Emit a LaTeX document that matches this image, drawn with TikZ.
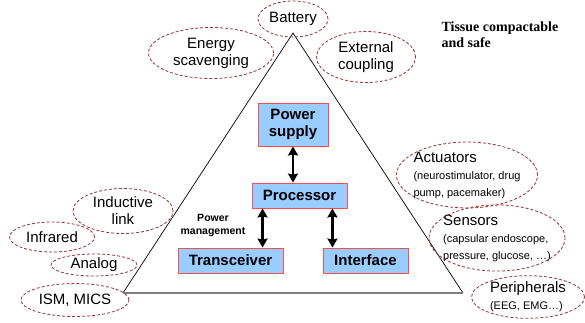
\documentclass[tikz,border=0pt]{standalone}
\usepackage{fontspec}
\setmainfont{Liberation Sans}
\newfontfamily\serifbold{Liberation Serif}
\usetikzlibrary{positioning,arrows.meta,shapes.geometric}

\definecolor{boxblue}{HTML}{99CCFF}
\definecolor{boxred}{HTML}{FF4D4D}
\definecolor{ovalred}{HTML}{993333}
\newcommand\smalltxt{\fontsize{11}{12}\selectfont}

\begin{document}
\begin{tikzpicture}[
x=1pt, y=-1pt,
block/.style={
    draw=boxred,
    fill=boxblue,
    line width=0.9pt,
    inner sep=0pt,
    align=center,
    font=\fontsize{15}{17.5}\selectfont\bfseries
},
oval/.style={
    ellipse,
    draw=ovalred,
    line width=0.8pt,
    dash pattern=on 3pt off 2pt,
    inner sep=0pt,
    align=center,
    font=\fontsize{15}{17}\selectfont
},
link/.style={
    <->,
    line width=2.6pt,
    >={Stealth[length=9pt,width=10pt,inset=1pt]}
}
]
\useasboundingbox (0,0) rectangle (585,322);

% triangle
\coordinate (apex) at (293,33);
\coordinate (baseL) at (123,293);
\coordinate (baseR) at (463,293);
\draw[line width=0.7pt] (baseL) -- (apex) -- (baseR);
\draw[gray, line width=1.6pt] (baseL) -- (baseR);

% blocks
\node (supply) [block, minimum width=70pt, minimum height=43pt] at (293,124.5)
{Power\\supply};
\node (processor) [block, minimum width=95pt, minimum height=25pt] at (299.5,195.5)
{Processor};
\node (transceiver) [block, minimum width=105pt, minimum height=25pt] at (230.5,260.5)
{Transceiver};
\node (interface) [block, minimum width=85pt, minimum height=25pt] at (365.5,260.5)
{Interface};

\draw[link] (supply.south) -- (supply.south |- processor.north);
\draw[link] ([xshift=11pt]processor.south west)
    -- ([xshift=11pt]processor.south west |- transceiver.north);
\draw[link] ([xshift=-15pt]processor.south east)
    -- ([xshift=-15pt]processor.south east |- interface.north);

\node (pm) [align=center, font=\fontsize{10.5}{13}\selectfont\bfseries] at (213,225)
{Power\\management};

% power sources
\node (battery) [oval, minimum width=70pt, minimum height=36pt] at (293,19) {Battery};
\node (scavenging) [oval, minimum width=125pt, minimum height=51pt] at (211,53)
{Energy\\scavenging};
\node (coupling) [oval, minimum width=99pt, minimum height=51pt] at (366,57)
{External\\coupling};

\node (tissue) [anchor=base west, align=left, font=\fontsize{14}{16}\serifbold\bfseries] at (438,47)
{Tissue compactable\\and safe};

% links
\node (inductive) [oval, minimum width=100pt, minimum height=45pt] at (123,211)
{Inductive\\link};
\node (infrared) [oval, minimum width=85pt, minimum height=30pt] at (52,237) {Infrared};
\node (analog) [oval, minimum width=86pt, minimum height=22pt] at (94,265) {Analog};
\node (ism) [oval, minimum width=108pt, minimum height=33pt] at (75,300) {ISM, MICS};

% interface side
\node (actuators) [oval, align=left, inner xsep=-6pt, minimum width=141pt, minimum height=64pt] at (467,175)
{Actuators\\\smalltxt(neurostimulator, drug\\\smalltxt pump, pacemaker)};
\node (sensors) [oval, align=left, inner xsep=-6pt, minimum width=136pt, minimum height=60pt] at (497,238)
{Sensors\\\smalltxt(capsular endoscope,\\\smalltxt pressure, glucose, \dots)};
\node (peripherals) [oval, align=left, minimum width=113pt, minimum height=42pt] at (528,297)
{Peripherals\\\smalltxt(EEG, EMG\dots)};

\end{tikzpicture}
\end{document}
